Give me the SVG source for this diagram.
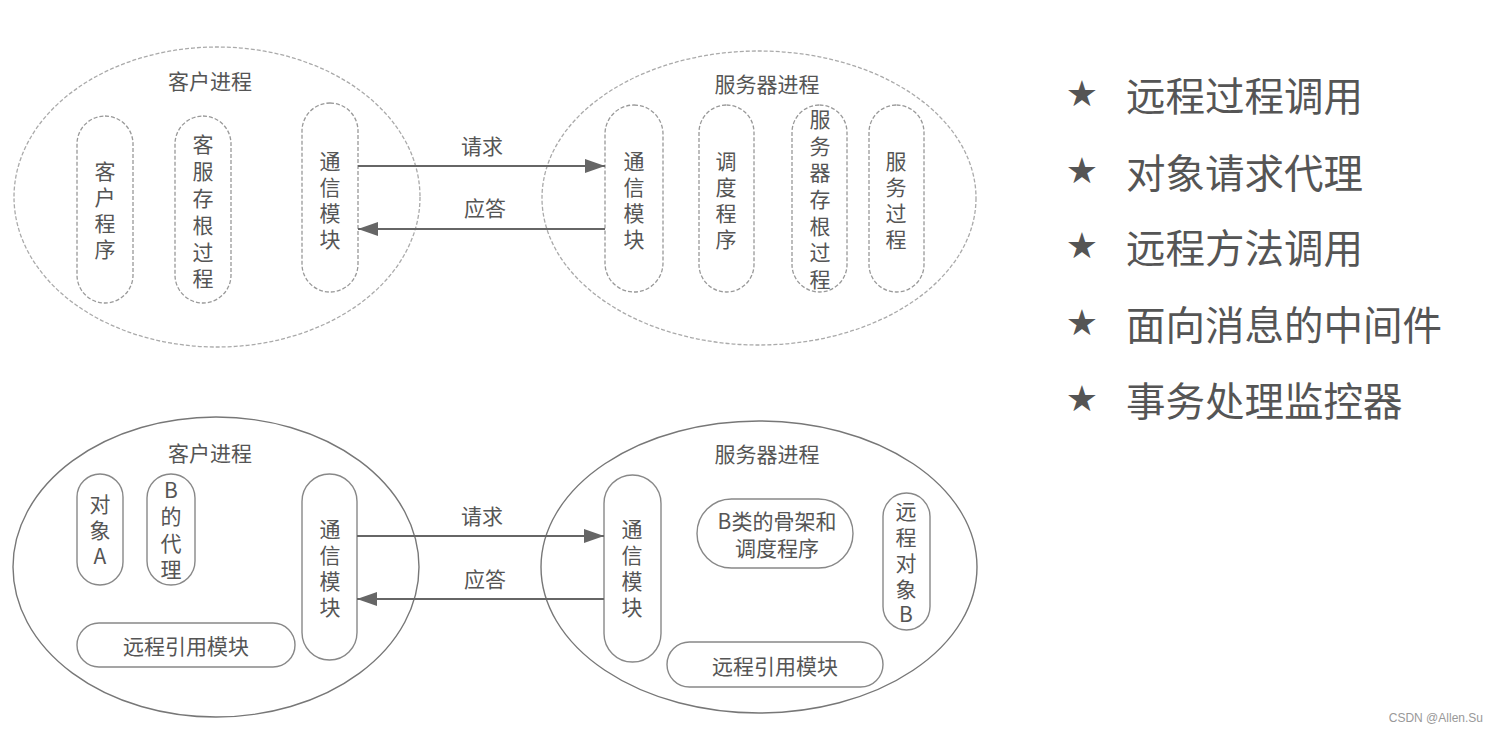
<svg xmlns="http://www.w3.org/2000/svg" width="1496" height="732" viewBox="0 0 1496 732">
<style>
text{font-family:"Noto Sans CJK SC","Liberation Sans",sans-serif;fill:#555;}
.t{font-size:21px;text-anchor:middle;dominant-baseline:central;}
.ell1{fill:none;stroke:#aaa;stroke-width:1.3;stroke-dasharray:4 2;}
.ell2{fill:none;stroke:#777;stroke-width:1.4;}
.pill1{fill:none;stroke:#999;stroke-width:1.3;stroke-dasharray:4 2;}
.pill2{fill:none;stroke:#888;stroke-width:1.4;}
.conn{stroke:#666;stroke-width:2.2;fill:none;}
.li{font-size:39.5px;fill:#555;dominant-baseline:central;}
.star{font-family:"DejaVu Sans",sans-serif;font-size:36px;fill:#555;text-anchor:middle;dominant-baseline:central;}
</style>
<defs>
<marker id="ah" viewBox="0 0 20 14" refX="20" refY="7" markerWidth="20" markerHeight="14" markerUnits="userSpaceOnUse" orient="auto">
<path d="M0,0 L20,7 L0,14 Z" fill="#666"/>
</marker>
</defs>
<rect width="1496" height="732" fill="#fff"/>

<g id="client1">
<ellipse class="ell1" cx="217" cy="197" rx="203" ry="150"/>
<text class="t" x="210" y="80">客户进程</text>
</g>
<g id="c1-client-prog">
<rect class="pill1" x="77" y="116" width="56" height="187" rx="28"/>
<text class="t" x="105" y="170">客</text><text class="t" x="105" y="196">户</text><text class="t" x="105" y="222">程</text><text class="t" x="105" y="248">序</text>
</g>
<g id="c1-stub">
<rect class="pill1" x="175" y="116" width="56" height="187" rx="28"/>
<text class="t" x="203" y="143">客</text><text class="t" x="203" y="170">服</text><text class="t" x="203" y="197">存</text><text class="t" x="203" y="224">根</text><text class="t" x="203" y="251">过</text><text class="t" x="203" y="277">程</text>
</g>
<g id="c1-comm">
<rect class="pill1" x="302" y="103" width="56" height="189" rx="28"/>
<text class="t" x="330" y="160">通</text><text class="t" x="330" y="186">信</text><text class="t" x="330" y="212">模</text><text class="t" x="330" y="238">块</text>
</g>

<g id="server1">
<ellipse class="ell1" cx="759" cy="198" rx="217" ry="147"/>
<text class="t" x="767" y="83">服务器进程</text>
</g>
<g id="s1-comm">
<rect class="pill1" x="605" y="105" width="58" height="187" rx="29"/>
<text class="t" x="634" y="160">通</text><text class="t" x="634" y="186">信</text><text class="t" x="634" y="212">模</text><text class="t" x="634" y="238">块</text>
</g>
<g id="s1-dispatch">
<rect class="pill1" x="699" y="105" width="55" height="187" rx="27.5"/>
<text class="t" x="726" y="160">调</text><text class="t" x="726" y="186">度</text><text class="t" x="726" y="212">程</text><text class="t" x="726" y="238">序</text>
</g>
<g id="s1-stub">
<rect class="pill1" x="792" y="105" width="55" height="187" rx="27.5"/>
<text class="t" x="820" y="118">服</text><text class="t" x="820" y="145">务</text><text class="t" x="820" y="171">器</text><text class="t" x="820" y="198">存</text><text class="t" x="820" y="225">根</text><text class="t" x="820" y="251">过</text><text class="t" x="820" y="278">程</text>
</g>
<g id="s1-service">
<rect class="pill1" x="869" y="105" width="55" height="187" rx="27.5"/>
<text class="t" x="896" y="160">服</text><text class="t" x="896" y="186">务</text><text class="t" x="896" y="212">过</text><text class="t" x="896" y="238">程</text>
</g>

<g id="client2">
<ellipse class="ell2" cx="216" cy="567" rx="203" ry="150"/>
<text class="t" x="210" y="452">客户进程</text>
</g>
<g id="c2-objA">
<rect class="pill2" x="77" y="474" width="46" height="111" rx="23"/>
<text class="t" x="100" y="503">对</text><text class="t" x="100" y="529">象</text><text class="t" x="100" y="555">A</text>
</g>
<g id="c2-proxy">
<rect class="pill2" x="147" y="474" width="48" height="111" rx="24"/>
<text class="t" x="171" y="489">B</text><text class="t" x="171" y="515">的</text><text class="t" x="171" y="542">代</text><text class="t" x="171" y="568">理</text>
</g>
<g id="c2-comm">
<rect class="pill2" x="302" y="474" width="55" height="186" rx="27.5"/>
<text class="t" x="330" y="528">通</text><text class="t" x="330" y="554">信</text><text class="t" x="330" y="580">模</text><text class="t" x="330" y="606">块</text>
</g>
<g id="c2-ref">
<rect class="pill2" x="77" y="623" width="218" height="44" rx="22"/>
<text class="t" x="186" y="645">远程引用模块</text>
</g>

<g id="server2">
<ellipse class="ell2" cx="759" cy="567" rx="218" ry="146"/>
<text class="t" x="767" y="453">服务器进程</text>
</g>
<g id="s2-comm">
<rect class="pill2" x="604" y="475" width="57" height="187" rx="28.5"/>
<text class="t" x="632" y="528">通</text><text class="t" x="632" y="554">信</text><text class="t" x="632" y="580">模</text><text class="t" x="632" y="606">块</text>
</g>
<g id="s2-skeleton">
<rect class="pill2" x="697" y="499" width="156" height="69" rx="34.5"/>
<text class="t" x="777" y="520">B类的骨架和</text>
<text class="t" x="777" y="547">调度程序</text>
</g>
<g id="s2-objB">
<rect class="pill2" x="883" y="493" width="47" height="137" rx="23.5"/>
<text class="t" x="906" y="510">远</text><text class="t" x="906" y="536">程</text><text class="t" x="906" y="562">对</text><text class="t" x="906" y="588">象</text><text class="t" x="906" y="613">B</text>
</g>
<g id="s2-ref">
<rect class="pill2" x="667" y="642" width="216" height="45" rx="22.5"/>
<text class="t" x="775" y="665">远程引用模块</text>
</g>

<g id="connectors">
<line class="conn" x1="358" y1="166" x2="605" y2="166" marker-end="url(#ah)"/>
<line class="conn" x1="605" y1="229" x2="358" y2="229" marker-end="url(#ah)"/>
<line class="conn" x1="357" y1="536" x2="604" y2="536" marker-end="url(#ah)"/>
<line class="conn" x1="604" y1="599" x2="357" y2="599" marker-end="url(#ah)"/>
<text class="t" x="482" y="145">请求</text>
<text class="t" x="485" y="207">应答</text>
<text class="t" x="482" y="515">请求</text>
<text class="t" x="485" y="578">应答</text>
</g>

<g id="list">
<text class="star" x="1082" y="93">★</text><text class="li" x="1126" y="93">远程过程调用</text>
<text class="star" x="1082" y="170">★</text><text class="li" x="1126" y="170">对象请求代理</text>
<text class="star" x="1082" y="245">★</text><text class="li" x="1126" y="245">远程方法调用</text>
<text class="star" x="1082" y="322">★</text><text class="li" x="1126" y="322">面向消息的中间件</text>
<text class="star" x="1082" y="398">★</text><text class="li" x="1126" y="398">事务处理监控器</text>
</g>

<text x="1483" y="722" style="font-family:'Liberation Sans',sans-serif;font-size:12px;fill:#999;text-anchor:end;">CSDN @Allen.Su</text>
</svg>
